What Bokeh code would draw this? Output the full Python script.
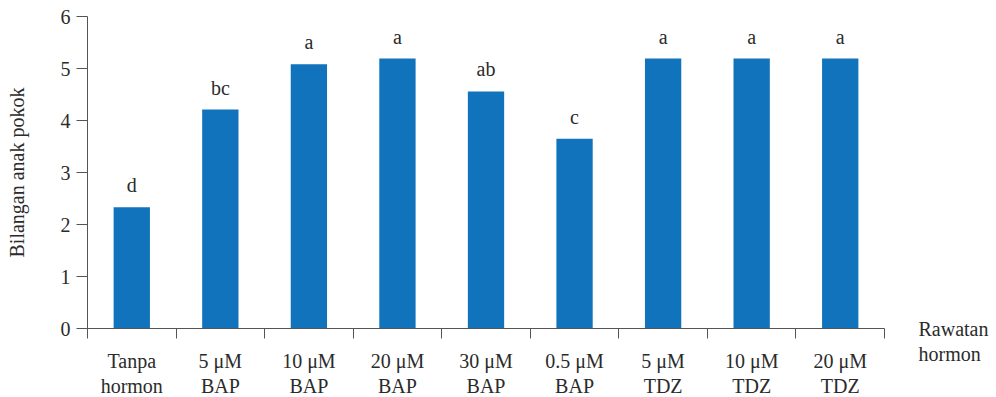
from bokeh.plotting import figure
from bokeh.models import Range1d, FixedTicker, LinearAxis, ColumnDataSource
from bokeh.core.properties import value
from bokeh.embed import file_html
from bokeh.resources import INLINE

categories = ["Tanpa\nhormon", "5 μM\nBAP", "10 μM\nBAP", "20 μM\nBAP", "30 μM\nBAP",
              "0.5 μM\nBAP", "5 μM\nTDZ", "10 μM\nTDZ", "20 μM\nTDZ"]
values = [2.33, 4.21, 5.08, 5.19, 4.56, 3.65, 5.19, 5.19, 5.19]
letters = ["d", "bc", "a", "a", "ab", "c", "a", "a", "a"]
y_ticks = [0, 1, 2, 3, 4, 5, 6]
x_title = "\nRawatan\nhormon"
y_title = "Bilangan anak pokok"

FONT = "Liberation Serif"
FS = "20px"
TXT = "#2b2b2b"
AX = "#555555"
BAR = "#1073bc"

n = len(categories)
centers = [i + 0.5 for i in range(n)]
bounds = [i for i in range(n + 1)]

src = ColumnDataSource(dict(x=centers, top=values, lab=letters))

p = figure(frame_width=797, frame_height=312, output_backend="svg", toolbar_location=None,
           x_range=Range1d(0, n), y_range=Range1d(0, 6),
           min_border_left=87, min_border_right=0, min_border_top=16, min_border_bottom=0)
p.outline_line_color = None
p.grid.grid_line_color = None
p.background_fill_color = "white"

p.vbar(x="x", top="top", bottom=0, width=0.41, source=src, fill_color=BAR, line_color=None)
p.text(x="x", y="top", text="lab", source=src, text_align="center", text_baseline="bottom",
       y_offset=-11, text_font=value(FONT), text_font_size=FS, text_color=TXT)

xa = p.xaxis[0]
xa.ticker = FixedTicker(ticks=centers, minor_ticks=bounds)
xa.major_label_overrides = {c: lab for c, lab in zip(centers, categories)}
xa.major_tick_line_color = None
xa.major_tick_out = 10
xa.major_tick_in = 0
xa.minor_tick_line_color = AX
xa.minor_tick_out = 10
xa.minor_tick_in = 0
xa.major_label_standoff = 11
xa.major_label_text_font = FONT
xa.major_label_text_font_size = FS
xa.major_label_text_color = TXT
xa.major_label_text_line_height = 1.15
xa.axis_line_color = AX

ya = p.yaxis[0]
ya.ticker = FixedTicker(ticks=y_ticks)
ya.minor_tick_line_color = None
ya.major_tick_line_color = AX
ya.major_tick_out = 11
ya.major_tick_in = 0
ya.major_label_standoff = 6
ya.major_label_text_font = FONT
ya.major_label_text_font_size = FS
ya.major_label_text_color = TXT
ya.axis_line_color = AX
ya.axis_label = y_title
ya.axis_label_text_font = FONT
ya.axis_label_text_font_size = FS
ya.axis_label_text_font_style = "normal"
ya.axis_label_text_color = TXT
ya.axis_label_standoff = 30

# right-hand axis used only to carry the x-axis title beside the axis end
ra = LinearAxis(ticker=FixedTicker(ticks=[0]), major_label_overrides={0: x_title})
ra.axis_line_color = None
ra.major_tick_line_color = None
ra.minor_tick_line_color = None
ra.major_tick_out = 0
ra.major_tick_in = 0
ra.major_label_standoff = 34
ra.major_label_text_font = FONT
ra.major_label_text_font_size = FS
ra.major_label_text_color = TXT
ra.major_label_text_line_height = 1.15
p.add_layout(ra, "right")

open("out.html", "w").write(file_html(p, INLINE))
